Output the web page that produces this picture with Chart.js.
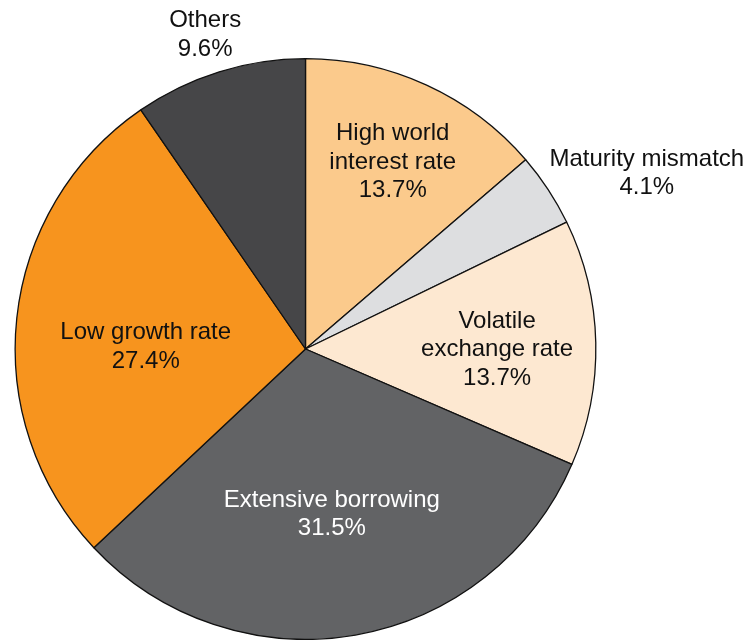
<!DOCTYPE html>
<html>
<head>
<meta charset="utf-8">
<script src="https://cdn.jsdelivr.net/npm/chart.js@4"></script>
<style>
  html, body { margin: 0; padding: 0; background: #fff; }
  #wrap { width: 748px; height: 640px; position: relative; }
</style>
</head>
<body>
<div id="wrap"><canvas id="pie"></canvas></div>
<script>
const categories = [
  ['High world', 'interest rate'],
  ['Maturity mismatch'],
  ['Volatile', 'exchange rate'],
  ['Extensive borrowing'],
  ['Low growth rate'],
  ['Others']
];
const shares = [13.7, 4.1, 13.7, 31.5, 27.4, 9.6];
const sliceColors = ['#FBCA8C', '#DDDEE0', '#FDE8D1', '#626365', '#F7941E', '#464648'];
const textColors = ['#111', '#111', '#111', '#fff', '#111', '#111'];

// where each label sits: fraction of radius along the slice bisector, plus a nudge
const labelPlace = [
  { r: 0.72, dx: 0, dy: 3 },
  { r: 1.32, dx: 21, dy: 35 },
  { r: 0.66, dx: 0, dy: 5 },
  { r: 0.567, dx: -2, dy: 3 },
  { r: 0.55, dx: -1, dy: 15 },
  { r: 1.14, dx: -2, dy: 2 }
];

const sliceLabels = {
  id: 'sliceLabels',
  afterDatasetsDraw(chart) {
    const ctx = chart.ctx;
    const arcs = chart.getDatasetMeta(0).data;
    ctx.save();
    ctx.font = '24px "Liberation Sans", Arial, sans-serif';
    ctx.textAlign = 'center';
    ctx.textBaseline = 'middle';
    arcs.forEach((arc, i) => {
      const { x, y, startAngle, endAngle, outerRadius } = arc.getProps(['x', 'y', 'startAngle', 'endAngle', 'outerRadius'], true);
      const mid = (startAngle + endAngle) / 2;
      const p = labelPlace[i];
      const cx = x + Math.cos(mid) * outerRadius * p.r + p.dx;
      const cy = y + Math.sin(mid) * outerRadius * p.r + p.dy;
      const lines = categories[i].concat([shares[i].toFixed(1) + '%']);
      const lh = 28.5;
      ctx.fillStyle = textColors[i];
      lines.forEach((t, k) => {
        ctx.fillText(t, cx, cy + (k - (lines.length - 1) / 2) * lh);
      });
    });
    ctx.restore();
  }
};

new Chart(document.getElementById('pie'), {
  type: 'pie',
  data: {
    labels: categories.map(c => c.join(' ')),
    datasets: [{
      data: shares,
      backgroundColor: sliceColors,
      borderColor: '#111',
      borderWidth: 1.3
    }]
  },
  options: {
    responsive: true,
    maintainAspectRatio: false,
    animation: false,
    layout: { padding: { top: 58, left: 14, right: 151, bottom: 0 } },
    plugins: {
      legend: { display: false },
      tooltip: { enabled: false }
    }
  },
  plugins: [sliceLabels]
});
</script>
</body>
</html>
